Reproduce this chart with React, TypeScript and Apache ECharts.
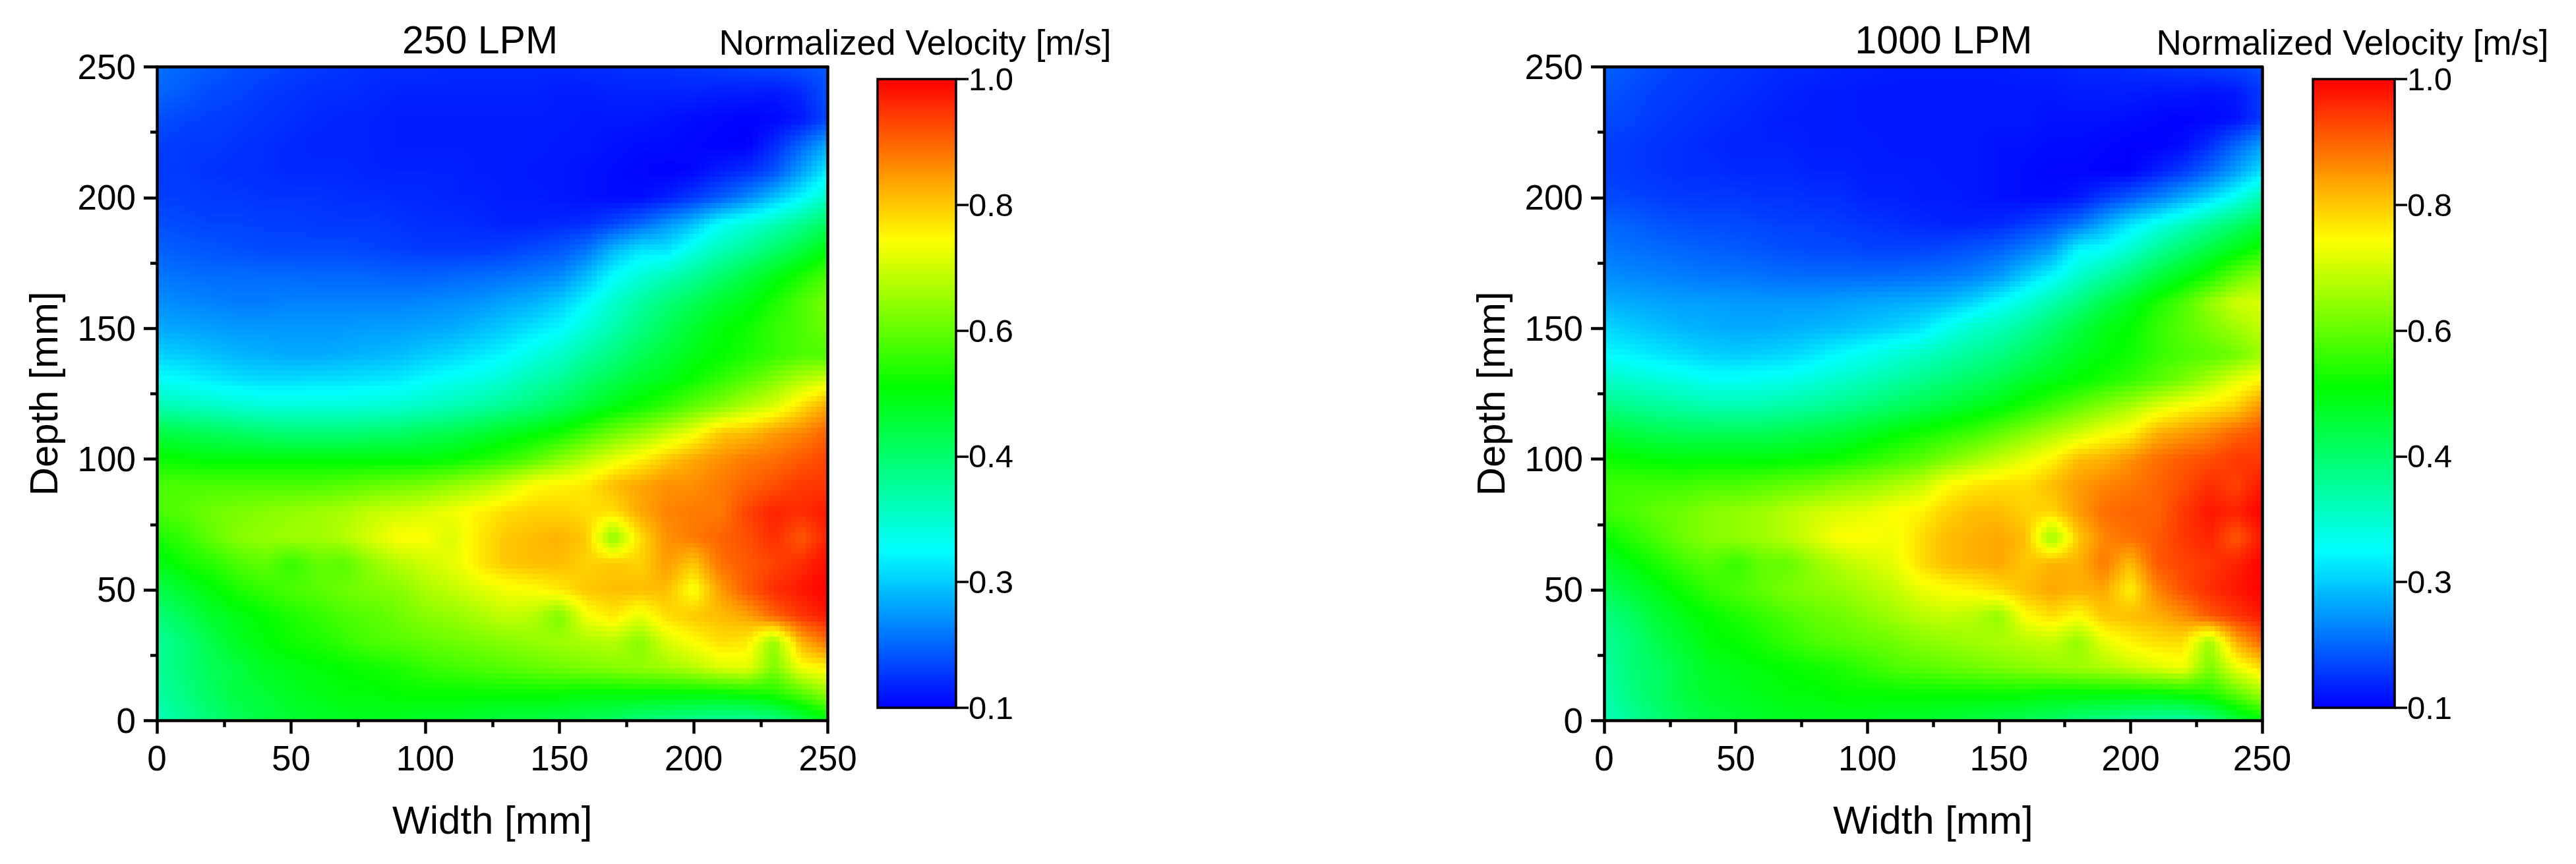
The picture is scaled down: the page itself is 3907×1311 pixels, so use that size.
import React, { useEffect, useRef } from "react";
import * as echarts from "echarts";

const FONT = "Liberation Sans";
const widthNodes = [0,10,20,30,40,50,60,70,80,90,100,110,120,130,140,150,160,170,180,190,200,210,220,230,240,250];
const depthNodes = [250,240,230,220,210,200,190,180,170,160,150,140,130,120,110,100,90,80,70,60,50,40,30,20,10,0];
const colorbarTicks = [0.1, 0.28, 0.46, 0.64, 0.82, 1.0];
const colorbarLabels = ["0.1", "0.3", "0.4", "0.6", "0.8", "1.0"];
const rainbow = [[0,0,255],[0,255,255],[0,255,0],[255,255,0],[255,0,0]];
const rainbowStops = [0, 0.25, 0.51, 0.745, 1];

const velocity250 = [
[.20,.19,.18,.17,.165,.155,.15,.145,.14,.14,.14,.135,.135,.135,.135,.135,.14,.14,.145,.145,.15,.155,.16,.165,.17,.18],
[.19,.18,.165,.16,.15,.145,.14,.14,.135,.13,.13,.13,.13,.13,.13,.125,.125,.13,.13,.13,.13,.125,.125,.12,.135,.17],
[.17,.16,.155,.15,.145,.14,.135,.13,.13,.125,.125,.125,.125,.125,.125,.125,.12,.12,.12,.115,.11,.105,.10,.105,.12,.16],
[.155,.15,.15,.145,.14,.135,.13,.13,.13,.125,.125,.125,.125,.125,.125,.12,.12,.115,.11,.11,.105,.10,.10,.135,.19,.25],
[.15,.15,.145,.14,.14,.135,.135,.135,.13,.13,.13,.13,.125,.125,.12,.12,.115,.11,.105,.10,.105,.125,.14,.17,.24,.31],
[.155,.155,.15,.15,.145,.145,.145,.14,.14,.135,.135,.13,.13,.125,.125,.12,.115,.11,.11,.125,.15,.18,.22,.27,.32,.38],
[.17,.165,.16,.16,.155,.155,.15,.15,.15,.145,.14,.14,.135,.13,.13,.135,.14,.16,.19,.23,.27,.33,.36,.39,.43,.47],
[.185,.18,.175,.17,.165,.165,.165,.165,.16,.155,.15,.15,.15,.155,.165,.175,.20,.26,.30,.30,.35,.39,.42,.46,.50,.55],
[.205,.20,.195,.195,.195,.195,.19,.19,.19,.185,.185,.19,.195,.20,.21,.22,.265,.325,.36,.39,.42,.46,.50,.54,.58,.62],
[.225,.22,.215,.21,.21,.215,.215,.215,.215,.215,.22,.225,.23,.245,.255,.28,.32,.37,.41,.45,.48,.52,.54,.58,.62,.66],
[.25,.245,.24,.235,.235,.235,.235,.235,.24,.24,.245,.25,.265,.28,.30,.32,.36,.40,.44,.48,.52,.55,.57,.60,.62,.65],
[.285,.28,.27,.26,.255,.25,.25,.255,.26,.265,.28,.29,.305,.32,.35,.375,.41,.44,.48,.51,.54,.56,.58,.60,.62,.62],
[.335,.325,.31,.30,.295,.295,.30,.30,.305,.31,.325,.34,.35,.37,.40,.42,.46,.49,.52,.54,.57,.60,.63,.67,.71,.74],
[.40,.39,.38,.37,.36,.36,.36,.36,.365,.37,.38,.395,.41,.43,.45,.48,.51,.545,.57,.60,.64,.67,.71,.74,.80,.85],
[.50,.49,.48,.47,.46,.45,.45,.45,.46,.465,.48,.49,.51,.53,.55,.57,.61,.65,.68,.72,.76,.82,.83,.86,.88,.91],
[.57,.56,.55,.55,.55,.55,.55,.55,.55,.55,.55,.56,.58,.60,.63,.67,.71,.75,.78,.82,.85,.87,.89,.90,.92,.94],
[.62,.62,.62,.62,.62,.62,.62,.63,.64,.65,.66,.68,.70,.73,.77,.78,.79,.83,.85,.87,.87,.89,.91,.93,.95,.95],
[.62,.63,.65,.66,.67,.68,.69,.70,.72,.73,.74,.76,.78,.80,.81,.81,.80,.80,.85,.88,.89,.89,.94,.97,.96,.98],
[.58,.60,.64,.67,.68,.69,.69,.71,.74,.77,.77,.74,.79,.82,.83,.84,.82,.67,.80,.87,.89,.91,.93,.96,.92,.97],
[.54,.57,.59,.62,.64,.60,.64,.63,.68,.71,.73,.75,.79,.82,.83,.83,.81,.82,.81,.86,.82,.90,.92,.94,.96,.99],
[.49,.52,.55,.58,.60,.62,.63,.65,.66,.67,.70,.72,.74,.76,.77,.79,.82,.83,.83,.83,.76,.86,.92,.96,.98,1.0],
[.45,.48,.52,.54,.56,.58,.60,.62,.63,.65,.67,.68,.70,.72,.71,.66,.76,.79,.75,.80,.82,.83,.85,.91,.95,.98],
[.42,.45,.49,.53,.55,.57,.58,.60,.62,.63,.64,.65,.66,.67,.68,.69,.70,.71,.67,.74,.77,.80,.79,.68,.84,.90],
[.42,.45,.48,.50,.53,.54,.55,.56,.57,.58,.60,.61,.62,.63,.64,.65,.66,.67,.68,.69,.71,.74,.75,.66,.76,.78],
[.41,.44,.47,.50,.51,.53,.54,.55,.55,.56,.56,.56,.56,.56,.56,.56,.55,.55,.55,.55,.55,.55,.56,.58,.62,.68],
[.39,.42,.45,.48,.50,.51,.52,.53,.53,.53,.52,.52,.51,.50,.50,.49,.48,.47,.45,.44,.43,.42,.42,.44,.49,.54],
];

const velocity1000 = [
[.185,.175,.165,.155,.15,.145,.14,.135,.135,.13,.13,.125,.125,.125,.125,.125,.13,.13,.135,.135,.14,.145,.15,.155,.16,.17],
[.175,.165,.155,.15,.145,.14,.135,.13,.125,.125,.12,.12,.12,.12,.12,.12,.12,.12,.125,.125,.125,.12,.12,.115,.12,.15],
[.165,.16,.15,.145,.14,.135,.13,.125,.125,.125,.12,.12,.12,.12,.12,.12,.12,.115,.115,.115,.11,.105,.10,.105,.115,.15],
[.155,.15,.145,.14,.135,.13,.13,.13,.125,.125,.125,.12,.12,.12,.12,.115,.115,.11,.11,.105,.10,.10,.11,.14,.19,.24],
[.155,.15,.145,.14,.14,.135,.135,.135,.13,.13,.125,.125,.125,.12,.12,.115,.11,.105,.105,.10,.10,.125,.15,.19,.24,.30],
[.165,.16,.155,.15,.15,.15,.145,.145,.14,.14,.13,.13,.125,.125,.12,.115,.11,.11,.12,.15,.18,.21,.25,.29,.34,.40],
[.19,.185,.175,.17,.165,.165,.16,.155,.155,.15,.145,.14,.135,.13,.13,.135,.15,.17,.20,.25,.30,.34,.38,.42,.46,.50],
[.205,.20,.195,.19,.185,.18,.175,.17,.165,.165,.16,.16,.16,.165,.175,.185,.21,.24,.32,.33,.37,.42,.46,.50,.54,.58],
[.225,.22,.215,.21,.205,.205,.20,.195,.195,.195,.195,.195,.20,.205,.215,.235,.28,.32,.37,.41,.45,.50,.54,.58,.64,.68],
[.255,.25,.245,.24,.24,.235,.235,.235,.235,.24,.245,.25,.255,.265,.29,.325,.36,.40,.44,.49,.53,.58,.62,.68,.73,.74],
[.29,.28,.27,.26,.255,.25,.25,.255,.26,.265,.275,.285,.30,.34,.37,.39,.42,.46,.50,.54,.56,.60,.63,.66,.69,.72],
[.325,.315,.305,.295,.285,.28,.285,.29,.305,.325,.34,.36,.38,.40,.42,.44,.47,.50,.53,.55,.57,.60,.62,.63,.65,.69],
[.38,.37,.36,.35,.335,.335,.34,.345,.36,.375,.39,.41,.43,.45,.47,.49,.52,.54,.56,.58,.60,.63,.66,.70,.75,.78],
[.44,.43,.42,.41,.40,.40,.40,.41,.42,.435,.45,.47,.49,.51,.53,.55,.58,.61,.64,.67,.70,.74,.77,.79,.81,.87],
[.51,.50,.49,.48,.48,.48,.48,.49,.50,.51,.53,.55,.57,.59,.61,.64,.67,.70,.73,.76,.78,.84,.86,.88,.91,.93],
[.57,.56,.555,.55,.55,.55,.55,.555,.56,.57,.59,.61,.63,.66,.69,.72,.75,.78,.83,.84,.87,.90,.92,.93,.95,.95],
[.61,.61,.61,.61,.62,.62,.63,.64,.65,.67,.68,.70,.72,.77,.79,.80,.80,.83,.86,.88,.89,.91,.93,.96,.94,.98],
[.61,.62,.64,.65,.67,.68,.69,.71,.73,.74,.75,.77,.78,.81,.83,.83,.81,.81,.86,.90,.91,.91,.95,.98,.97,1.0],
[.56,.59,.62,.65,.67,.68,.69,.71,.74,.77,.77,.76,.80,.83,.84,.85,.83,.68,.82,.88,.90,.92,.95,.97,.92,.98],
[.52,.55,.58,.61,.63,.60,.64,.64,.68,.71,.73,.75,.80,.83,.84,.85,.82,.84,.84,.89,.83,.92,.94,.95,.97,1.0],
[.48,.51,.54,.57,.60,.62,.64,.66,.67,.68,.70,.72,.75,.77,.78,.80,.83,.85,.84,.85,.78,.88,.93,.96,.98,1.0],
[.44,.47,.51,.54,.56,.58,.60,.62,.64,.65,.67,.69,.71,.72,.71,.68,.77,.80,.77,.82,.83,.84,.87,.92,.95,.98],
[.42,.45,.49,.52,.55,.56,.58,.60,.62,.63,.64,.65,.67,.68,.69,.70,.71,.72,.68,.75,.78,.80,.80,.69,.84,.91],
[.41,.45,.47,.50,.53,.54,.55,.56,.57,.58,.60,.62,.63,.64,.65,.66,.67,.68,.69,.70,.72,.74,.76,.66,.75,.80],
[.40,.44,.47,.50,.52,.53,.54,.55,.55,.56,.56,.56,.56,.56,.56,.56,.56,.55,.55,.55,.55,.55,.56,.58,.63,.69],
[.39,.42,.45,.48,.50,.51,.52,.53,.53,.53,.53,.52,.52,.51,.50,.49,.48,.47,.45,.44,.42,.41,.41,.44,.50,.55],
];

const SUB = 5;

function colorOf(v: number): string {
  const t = Math.max(0, Math.min(1, (v - 0.1) / 0.9));
  let i = 0;
  while (i < rainbowStops.length - 2 && t > rainbowStops[i + 1]) i++;
  const f = (t - rainbowStops[i]) / (rainbowStops[i + 1] - rainbowStops[i]);
  const a = rainbow[i], b = rainbow[i + 1];
  return `rgb(${Math.round(a[0] + (b[0] - a[0]) * f)},${Math.round(a[1] + (b[1] - a[1]) * f)},${Math.round(a[2] + (b[2] - a[2]) * f)})`;
}

function fieldSeries(rows: number[][], axisIndex: number) {
  const data: number[][] = [];
  rows.forEach((row, r) => row.forEach((v, c) => data.push([widthNodes[c], depthNodes[r], v, c, r])));
  return {
    type: "custom",
    coordinateSystem: "cartesian2d",
    xAxisIndex: axisIndex,
    yAxisIndex: axisIndex,
    silent: true,
    progressive: 0,
    encode: { x: 0, y: 1 },
    data,
    renderItem: (_: any, api: any) => {
      const c = api.value(3), r = api.value(4);
      if (c >= widthNodes.length - 1 || r >= depthNodes.length - 1) return null;
      const tl = api.coord([widthNodes[c], depthNodes[r]]);
      const br = api.coord([widthNodes[c + 1], depthNodes[r + 1]]);
      const v00 = rows[r][c], v10 = rows[r][c + 1], v01 = rows[r + 1][c], v11 = rows[r + 1][c + 1];
      const children: any[] = [];
      for (let i = 0; i < SUB; i++) {
        const x0 = Math.round(tl[0] + ((br[0] - tl[0]) * i) / SUB);
        const x1 = Math.round(tl[0] + ((br[0] - tl[0]) * (i + 1)) / SUB);
        const fx = (i + 0.5) / SUB;
        for (let j = 0; j < SUB; j++) {
          const y0 = Math.round(tl[1] + ((br[1] - tl[1]) * j) / SUB);
          const y1 = Math.round(tl[1] + ((br[1] - tl[1]) * (j + 1)) / SUB);
          const fy = (j + 0.5) / SUB;
          const v = (v00 * (1 - fx) + v10 * fx) * (1 - fy) + (v01 * (1 - fx) + v11 * fx) * fy;
          children.push({ type: "rect", shape: { x: x0, y: y0, width: x1 - x0, height: y1 - y0 }, style: { fill: colorOf(v) } });
        }
      }
      return { type: "group", children };
    },
  };
}

const ink = { color: "#000", width: 4.5 };

function mainAxes(name: string, pos: string, far: string, grid: number, gap: number, rotate?: number) {
  return [
    {
      type: "value", gridIndex: grid, position: pos, min: 0, max: 250, interval: 50, z: 10,
      name, nameLocation: "middle", nameGap: gap, nameRotate: rotate,
      nameTextStyle: { fontFamily: FONT, fontSize: 60, color: "#000" },
      axisLine: { show: true, onZero: false, lineStyle: ink },
      axisTick: { show: true, length: 20, lineStyle: ink },
      minorTick: { show: true, splitNumber: 2, length: 10, lineStyle: ink },
      splitLine: { show: false },
      axisLabel: { fontFamily: FONT, fontSize: 53, color: "#000", margin: pos === "bottom" ? 31 : 32 },
    },
    {
      type: "value", gridIndex: grid, position: far, min: 0, max: 250, interval: 50, z: 10,
      axisLine: { show: true, onZero: false, lineStyle: ink },
      axisTick: { show: false }, axisLabel: { show: false }, splitLine: { show: false },
    },
  ];
}

const titleStyle = (size: number) => ({ fontFamily: FONT, fontSize: size, fontWeight: "normal" as const, color: "#000" });

function buildOption() {
  const gridTop = 101.5, gridH = 991.8, barTop = 120, barH = 954;
  const gradient = () =>
    new echarts.graphic.LinearGradient(0, 1, 0, 0, rainbow.map((c, i) => ({ offset: rainbowStops[i], color: `rgb(${c.join(",")})` })));
  const barBox = { show: true, borderColor: "#000", borderWidth: 3.5, top: barTop, height: barH };
  const barY = (grid: number) => ({
    type: "value", gridIndex: grid, position: "right", min: 0.1, max: 1,
    axisLine: { show: false, onZero: false },
    axisTick: { show: true, customValues: colorbarTicks, length: 19, lineStyle: { color: "#000", width: 3.5 } },
    axisLabel: {
      fontFamily: FONT, fontSize: 49, color: "#000", margin: 19, customValues: colorbarTicks,
      formatter: (value: number) => colorbarLabels[colorbarTicks.indexOf(value)],
    },
    splitLine: { show: false },
  });
  const barX = (grid: number) => ({ type: "value", gridIndex: grid, show: false, min: 0, max: 1 });
  return {
    animation: false,
    backgroundColor: "#fff",
    title: [
      { text: "250 LPM", left: 728, top: 31, textAlign: "center", padding: 0, textStyle: titleStyle(59) },
      { text: "1000 LPM", left: 2948, top: 31, textAlign: "center", padding: 0, textStyle: titleStyle(59) },
      { text: "Normalized Velocity [m/s]", left: 1388, top: 38, textAlign: "center", padding: 0, textStyle: titleStyle(53) },
      { text: "Normalized Velocity [m/s]", left: 3568, top: 38, textAlign: "center", padding: 0, textStyle: titleStyle(53) },
    ],
    grid: [
      { left: 238, top: gridTop, width: 1017.5, height: gridH },
      { left: 2433, top: gridTop, width: 998, height: gridH },
      { ...barBox, left: 1331, width: 119, backgroundColor: gradient() },
      { ...barBox, left: 3508, width: 124, backgroundColor: gradient() },
    ],
    xAxis: [
      mainAxes("Width [mm]", "bottom", "top", 0, 121)[0],
      mainAxes("Width [mm]", "bottom", "top", 1, 121)[0],
      barX(2),
      barX(3),
      mainAxes("", "bottom", "top", 0, 0)[1],
      mainAxes("", "bottom", "top", 1, 0)[1],
    ],
    yAxis: [
      mainAxes("Depth [mm]", "left", "right", 0, 142, 90)[0],
      mainAxes("Depth [mm]", "left", "right", 1, 142, 90)[0],
      barY(2),
      barY(3),
      mainAxes("", "left", "right", 0, 0)[1],
      mainAxes("", "left", "right", 1, 0)[1],
    ],
    series: [fieldSeries(velocity250, 0), fieldSeries(velocity1000, 1)],
  };
}

export default function App() {
  const ref = useRef<HTMLDivElement>(null);
  useEffect(() => {
    const chart = echarts.init(ref.current!, undefined, { renderer: "svg" });
    chart.setOption(buildOption() as any);
    return () => chart.dispose();
  }, []);
  return <div ref={ref} style={{ position: "absolute", left: 0, top: 0, width: 3907, height: 1311 }} />;
}
